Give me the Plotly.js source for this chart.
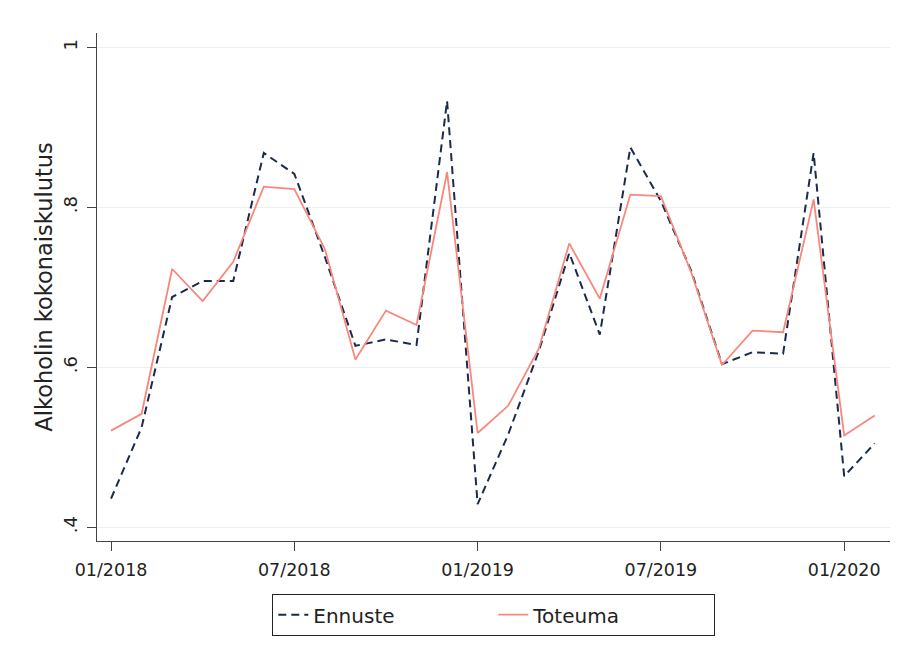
<!DOCTYPE html>
<html><head><meta charset="utf-8">
<script src="https://cdn.plot.ly/plotly-3.0.1.min.js"></script>
<style>body{margin:0;background:#fff}#c{width:903px;height:647px}</style>
</head><body><div id="c"></div>
<script>
const months = ["01/2018","02/2018","03/2018","04/2018","05/2018","06/2018","07/2018","08/2018","09/2018","10/2018","11/2018","12/2018",
"01/2019","02/2019","03/2019","04/2019","05/2019","06/2019","07/2019","08/2019","09/2019","10/2019","11/2019","12/2019",
"01/2020","02/2020"];
const ennuste = [0.436,0.525,0.688,0.708,0.708,0.868,0.842,0.738,0.627,0.635,0.628,0.933,
0.429,0.516,0.620,0.743,0.641,0.875,0.808,0.720,0.604,0.619,0.617,0.868,
0.464,0.505];
const toteuma = [0.521,0.542,0.723,0.683,0.732,0.826,0.823,0.748,0.610,0.671,0.653,0.844,
0.518,0.552,0.623,0.755,0.686,0.816,0.814,0.718,0.603,0.646,0.644,0.810,
0.515,0.540];
const xTicks = ["01/2018","07/2018","01/2019","07/2019","01/2020"];
const yTicks = [0.4,0.6,0.8,1];
const yTickText = [".4",".6",".8","1"];

const font = "'DejaVu Sans',Arial,sans-serif";
const traces = [
 {x:months,y:ennuste,type:'scatter',mode:'lines',name:'Ennuste',
  line:{color:'#1b2b4e',width:2,dash:'8px,5px'}},
 {x:months,y:toteuma,type:'scatter',mode:'lines',name:'Toteuma',
  line:{color:'#f8887b',width:1.8}}
];
const layout = {
 width:903,height:647,
 margin:{l:97,r:13,t:33,b:105,pad:0},
 paper_bgcolor:'#fff',plot_bgcolor:'#fff',
 font:{family:font,size:17,color:'#222'},
 showlegend:true,
 xaxis:{type:'category',range:[-0.46,25.5],tickmode:'array',tickvals:xTicks,ticktext:xTicks,
  showgrid:false,zeroline:false,showline:true,linecolor:'#444',linewidth:1.3,
  ticks:'outside',ticklen:9,tickcolor:'#444',tickwidth:1,ticklabelstandoff:4,
  tickfont:{family:font,size:17.5,color:'#222'}},
 yaxis:{range:[0.383,1.018],tickmode:'array',tickvals:yTicks,ticktext:yTickText,tickangle:-90,
  showgrid:true,gridcolor:'#eaf1f2',gridwidth:1.5,zeroline:false,showline:true,linecolor:'#444',linewidth:1.3,
  ticks:'outside',ticklen:9,tickcolor:'#444',tickwidth:1,ticklabelstandoff:3,
  tickfont:{family:font,size:18,color:'#222'},
  title:{text:'Alkoholin kokonaiskulutus',font:{family:font,size:22.5,color:'#222'},standoff:0}},
 legend:{orientation:'h',x:0.5,xanchor:'center',y:-0.102,yanchor:'top',
  bordercolor:'#222',borderwidth:1.3,bgcolor:'#fff',entrywidth:175,
  font:{family:font,size:20,color:'#222'}}
};
Plotly.newPlot('c',traces,layout,{displayModeBar:false,staticPlot:true});
</script></body></html>
